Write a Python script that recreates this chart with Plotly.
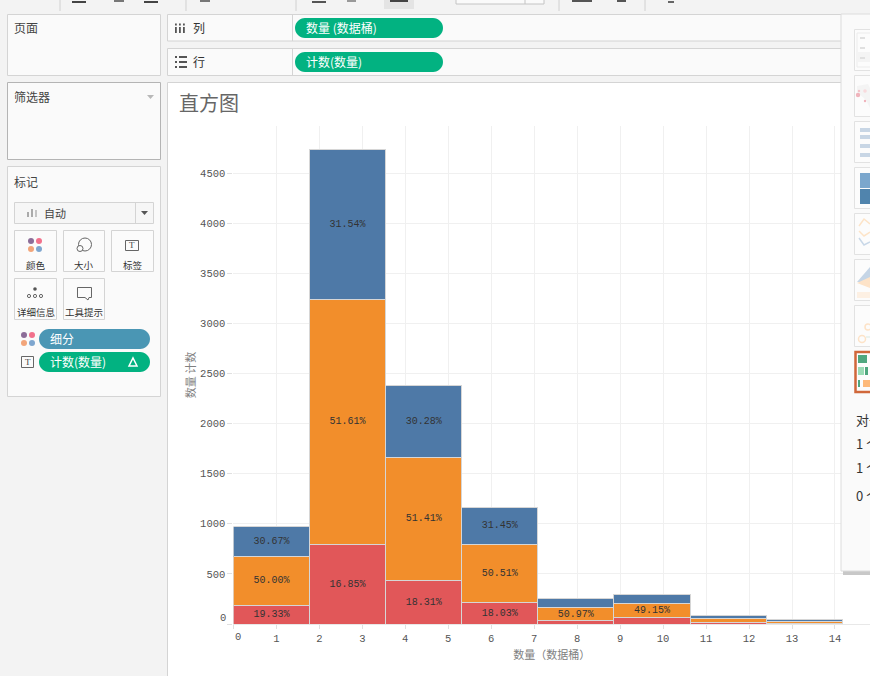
import plotly.graph_objects as go

##########
# Inputs #
##########

BIN_SIZE = 1.771
bin_numbers = [0, 1, 2, 3, 4, 5, 6, 7]

# counts per segment
red_values = [187, 798, 437, 210, 33, 62, 17, 7]
orange_values = [485, 2444, 1226, 587, 130, 145, 36, 17]
blue_values = [298, 1493, 722, 366, 92, 88, 28, 19]

red_labels = ["19.33%", "16.85%", "18.31%", "18.03%", "", "", "", ""]
orange_labels = ["50.00%", "51.61%", "51.41%", "50.51%", "50.97%", "49.15%", "", ""]
blue_labels = ["30.67%", "31.54%", "30.28%", "31.45%", "", "", "", ""]

x_ticks = list(range(15))
y_ticks = [0, 500, 1000, 1500, 2000, 2500, 3000, 3500, 4000, 4500]

W, H = 870, 676
CJK = "Noto Sans CJK SC"
MONO = "Liberation Mono"
GREEN = "#02b281"
TEAL = "#4a96b4"

shapes = []
annotations = []


def fx(x):
    return x / W


def fy(y):
    return 1 - y / H


def rect(x0, y0, x1, y1, fill=None, line=None, width=1, layer="below"):
    shapes.append(dict(
        type="rect", xref="paper", yref="paper", layer=layer,
        x0=fx(x0), x1=fx(x1), y0=fy(y0), y1=fy(y1),
        fillcolor=fill or "rgba(0,0,0,0)",
        line=dict(color=line or "rgba(0,0,0,0)", width=width if line else 0),
    ))


def circle(cx, cy, r, fill=None, line=None, width=1, layer="below"):
    shapes.append(dict(
        type="circle", xref="paper", yref="paper", layer=layer,
        x0=fx(cx - r), x1=fx(cx + r), y0=fy(cy - r), y1=fy(cy + r),
        fillcolor=fill or "rgba(0,0,0,0)",
        line=dict(color=line or "rgba(0,0,0,0)", width=width if line else 0),
    ))


def poly(points, fill=None, line=None, width=1, closed=True, layer="below"):
    path = "M " + " L ".join(f"{fx(x):.5f},{fy(y):.5f}" for x, y in points)
    if closed:
        path += " Z"
    shapes.append(dict(
        type="path", xref="paper", yref="paper", layer=layer, path=path,
        fillcolor=fill or "rgba(0,0,0,0)",
        line=dict(color=line or "rgba(0,0,0,0)", width=width if line else 0),
    ))


def pill(x0, y0, x1, y1, fill):
    # rounded bar built from two bezier end caps
    r = (y1 - y0) / 2
    k = r * 0.55
    p = lambda x, y: f"{fx(x):.5f},{fy(y):.5f}"
    path = (
        f"M {p(x0 + r, y0)} L {p(x1 - r, y0)} "
        f"C {p(x1 - r + k, y0)} {p(x1, y0 + r - k)} {p(x1, y0 + r)} "
        f"C {p(x1, y0 + r + k)} {p(x1 - r + k, y1)} {p(x1 - r, y1)} "
        f"L {p(x0 + r, y1)} "
        f"C {p(x0 + r - k, y1)} {p(x0, y0 + r + k)} {p(x0, y0 + r)} "
        f"C {p(x0, y0 + r - k)} {p(x0 + r - k, y0)} {p(x0 + r, y0)} Z"
    )
    shapes.append(dict(type="path", xref="paper", yref="paper", layer="below", path=path,
                       fillcolor=fill, line=dict(width=0)))


def text(x, y, s, size=12, color="#444444", anchor="left", family=CJK, angle=0):
    annotations.append(dict(
        xref="paper", yref="paper", x=fx(x), y=fy(y), text=s, showarrow=False,
        xanchor=anchor, yanchor="middle", textangle=angle,
        font=dict(family=family, size=size, color=color),
        borderpad=0, borderwidth=0,
    ))


###########
# Chrome  #
###########

BG = "#f3f3f3"
PANEL = "#fafafa"
EDGE = "#d4d4d4"

rect(0, 0, W, H, fill=BG)

# toolbar fragments along the top
for sep_x in [60, 186, 296, 559, 645]:
    poly([(sep_x, 0), (sep_x, 11)], line="#d0d0d0", closed=False)
rect(384, 0, 414, 9, fill="#e4e4e4")
rect(456, -3, 544, 4, fill="#fafafa", line="#c4c4c4")
poly([(525, 0), (525, 4)], line="#c4c4c4", closed=False)
for x0, x1, y, col in [(72, 86, 2, "#444444"), (114, 124, 1, "#777777"), (144, 158, 2, "#444444"),
                       (200, 210, 1, "#777777"), (312, 326, 2, "#555555"), (347, 356, 1, "#999999"),
                       (390, 408, 1, "#444444"), (572, 592, 1, "#555555"), (617, 626, 1, "#555555"),
                       (668, 674, 2, "#666666")]:
    poly([(x0, y), (x1, y)], line=col, width=2, closed=False)

# left cards
rect(7.5, 14.5, 160.5, 75.5, fill=PANEL, line=EDGE)
rect(7.5, 82.5, 160.5, 159.5, fill=PANEL, line="#b4b4b4")
rect(7.5, 166.5, 160.5, 396.5, fill=PANEL, line=EDGE)
text(14, 28, "页面")
text(14, 96, "筛选器")
text(14, 181, "标记")
poly([(147, 95), (154, 95), (150.5, 99)], fill="#b8b8b8")

# mark type dropdown
rect(14.5, 202.5, 153.5, 223.5, fill="#f6f6f6", line=EDGE)
poly([(135.5, 203), (135.5, 223)], line=EDGE, closed=False)
rect(27, 212, 29, 217, fill="#aaaaaa")
rect(31, 209, 33, 217, fill="#aaaaaa")
rect(35, 210, 37, 217, fill="#c4c4c4")
text(44, 213, "自动", size=11)
poly([(141, 211), (148, 211), (144.5, 215)], fill="#555555")

# mark cards
for x0, x1, y0, y1, label in [
    (14.5, 56.5, 230.5, 271.5, "颜色"),
    (63.5, 104.5, 230.5, 271.5, "大小"),
    (111.5, 153.5, 230.5, 271.5, "标签"),
    (14.5, 56.5, 278.5, 319.5, "详细信息"),
    (63.5, 104.5, 278.5, 319.5, "工具提示"),
]:
    rect(x0, y0, x1, y1, fill="#fbfbfb", line=EDGE)
    text((x0 + x1) / 2, y1 - 7, label, size=9.5, anchor="center", color="#333333")


def colour_dots(cx, cy):
    circle(cx - 4, cy - 4, 3, fill="#8c6d98")
    circle(cx + 4, cy - 4, 3, fill="#f2718c")
    circle(cx - 4, cy + 4, 3, fill="#f2a57a")
    circle(cx + 4, cy + 4, 3, fill="#7ea6cf")


def t_box(x0, y0, x1, y1):
    rect(x0, y0, x1, y1, line="#666666")
    text((x0 + x1) / 2, (y0 + y1) / 2, "T", size=9, anchor="center", color="#444444", family="Liberation Serif")


colour_dots(35, 245)
circle(85, 244.5, 6.5, fill="#fbfbfb", line="#666666")
circle(80, 248.5, 3, fill="#fbfbfb", line="#666666")
t_box(125.5, 240.5, 138.5, 250.5)
circle(35, 289, 1.8, fill="#555555")
for dot_x in [29, 35, 41]:
    circle(dot_x, 296, 1.6, fill="#fbfbfb", line="#666666")
poly([(77.5, 287.5), (91.5, 287.5), (91.5, 297.5), (89, 297.5), (88, 300), (85, 297.5), (77.5, 297.5)], line="#666666")

# marks shelf pills
colour_dots(28, 339)
pill(39, 329, 150, 349, TEAL)
text(50, 338.5, "细分", color="#ffffff")
t_box(21.5, 356.5, 33.5, 367.5)
pill(39, 352, 150, 372, GREEN)
text(50, 361.5, "计数(数量)", color="#ffffff")
poly([(129, 366), (137, 366), (133, 358)], line="#ffffff", width=1.5)

# column and row shelves
for y0, y1, label in [(14.5, 41, "列"), (48.5, 75.5, "行")]:
    rect(167.5, y0, 880, y1, fill=PANEL, line=EDGE)
    poly([(292.5, y0), (292.5, y1)], line=EDGE, closed=False)
    text(193, (y0 + y1) / 2 - 0.5, label, color="#333333")
for bar_x in [175, 179, 183]:
    rect(bar_x, 27, bar_x + 1.8, 33, fill="#555555")
    rect(bar_x, 23.5, bar_x + 1.8, 25.5, fill="#555555")
for line_y in [57, 62, 67]:
    rect(175, line_y - 1, 177, line_y + 1, fill="#555555")
    rect(179, line_y - 1, 187, line_y + 1, fill="#555555")
pill(295, 18, 443, 38, GREEN)
pill(295, 52, 443, 72, GREEN)
text(306, 27.5, "数量 (数据桶)", color="#ffffff")
text(306, 61.5, "计数(数量)", color="#ffffff")

# worksheet
rect(167.5, 82.5, 880, 690, fill="#ffffff", line=EDGE)
text(179, 102, "直方图", size=20, color="#666666")

# fixed label offsets that tick labels cannot do
text(238, 637, "0", size=10.5, color="#555555", anchor="center", family=MONO)
text(226, 618, "0", size=10.5, color="#555555", anchor="right", family=MONO)

# show-me panel sits over the chart
rect(843, 570, 880, 575, fill="#c8c8c8", layer="above")
rect(841, 14, 880, 571, fill=PANEL, line="#dcdcdc", layer="above")
for card_y in [29, 75, 121, 167, 213, 259, 305]:
    rect(854.5, card_y + 0.5, 880, card_y + 41.5, fill="#fcfcfc", line="#e2e2e2", layer="above")

rect(857, 33, 880, 67, line="#ececec", layer="above")
rect(858, 52, 880, 62, fill="#f4f4f4", layer="above")
for row_y in [37, 47, 57]:
    rect(860, row_y, 865, row_y + 2, fill="#e0e0e0", layer="above")

poly([(857, 86), (868, 84), (870, 88), (870, 108), (866, 100), (857, 92)], fill="#f4f4f4", layer="above")
circle(858, 95, 2.2, fill="#f0b4bc", layer="above")
circle(859, 91, 1.2, fill="#f4c4ca", layer="above")
circle(865, 91, 1.8, fill="#f8dadd", layer="above")
circle(865, 101, 1.2, fill="#f0b4bc", layer="above")

for row_y in [128, 135, 144, 153]:
    rect(860, row_y, 880, row_y + 4, fill="#c8d6e5", layer="above")

rect(860, 173, 880, 188, fill="#7ba7cd", layer="above")
rect(860, 189, 880, 204, fill="#5084ad", layer="above")

poly([(859, 226), (864, 219), (870, 224)], line="#fde4c8", width=1.5, closed=False, layer="above")
poly([(859, 231), (864, 236), (870, 232)], line="#fde4c8", width=1.5, closed=False, layer="above")
poly([(859, 238), (864, 245), (870, 242)], line="#c9d8e8", width=1.5, closed=False, layer="above")

poly([(857, 282), (870, 267), (880, 267), (880, 282)], fill="#c5d5e6", layer="above")
poly([(857, 283), (870, 277), (880, 277), (880, 292)], fill="#fde3c8", layer="above")
poly([(857, 292), (880, 292), (880, 298), (857, 298)], fill="#fdf0e3", layer="above")

circle(868, 327, 3, line="#fde3c8", width=1.5, layer="above")
circle(862, 339, 3.5, line="#fde3c8", width=1.5, layer="above")
poly([(866, 337), (870, 337)], line="#d8e8e0", closed=False, layer="above")

rect(855.5, 352, 880, 392, fill="#fcfcfc", line="#d0673a", width=2.5, layer="above")
rect(858, 355, 867, 363, fill="#4fa77f", layer="above")
rect(858, 367, 864, 375, fill="#9adbb5", layer="above")
rect(865, 367, 868, 375, fill="#4fa77f", layer="above")
rect(858, 380, 860, 387, fill="#4fa77f", layer="above")
rect(863, 380, 880, 387, fill="#fdb97a", layer="above")

# these run off the window edge in the reference too
text(856, 419, "对于", size=13, color="#333333")
text(856, 443, "1 个", size=13, color="#333333")
text(856, 467, "1 个", size=13, color="#333333")
text(856, 495, "0 个", size=13, color="#333333")


#############
# Plot data #
#############

fig = go.Figure()

x_centres = [(b + 0.5) * BIN_SIZE for b in bin_numbers]
for values, labels, colour in [
    (red_values, red_labels, "#e15759"),
    (orange_values, orange_labels, "#f28e2b"),
    (blue_values, blue_labels, "#4e79a7"),
]:
    fig.add_trace(go.Bar(
        x=x_centres,
        y=values,
        width=BIN_SIZE,
        text=labels,
        textposition="inside",
        insidetextanchor="middle",
        textangle=0,
        constraintext="none",
        textfont=dict(family=MONO, size=10, color="#333333"),
        marker=dict(color=colour, line=dict(color="#d6d6d6", width=1)),
        showlegend=False,
        hoverinfo="skip",
    ))

fig.update_layout(
    barmode="stack",
    width=W,
    height=H,
    autosize=False,
    margin=dict(l=0, r=0, t=0, b=0, pad=0),
    paper_bgcolor="#ffffff",
    plot_bgcolor="rgba(0,0,0,0)",
    showlegend=False,
    shapes=shapes,
    annotations=annotations,
    xaxis=dict(
        domain=[233.4 / W, 1],
        range=[0, (W - 233.4) / 42.97],
        tickvals=x_ticks,
        ticktext=[""] + [str(t) for t in x_ticks[1:]],
        ticks="outside",
        ticklen=4,
        tickcolor="#e0e0e0",
        tickfont=dict(family=MONO, size=10.5, color="#555555"),
        showgrid=True,
        gridcolor="#f0f0f0",
        gridwidth=1,
        zeroline=False,
        showline=False,
        title=dict(text="数量（数据桶）", standoff=7, font=dict(family=CJK, size=11, color="#808080")),
        automargin=False,
    ),
    yaxis=dict(
        domain=[1 - 624 / H, 1 - 126 / H],
        range=[0, 498 / 0.1002],
        tickvals=y_ticks,
        ticktext=[""] + [str(t) for t in y_ticks[1:]],
        ticks="outside",
        ticklen=5,
        tickcolor="#e0e0e0",
        tickfont=dict(family=MONO, size=10.5, color="#555555"),
        showgrid=True,
        gridcolor="#f0f0f0",
        gridwidth=1,
        zeroline=True,
        zerolinecolor="#e8e8e8",
        zerolinewidth=1,
        showline=False,
        title=dict(text="数量 计数", standoff=2, font=dict(family=CJK, size=11, color="#808080")),
        automargin=False,
    ),
)

fig.write_html("out.html", config=dict(displayModeBar=False),
               post_script="document.body.style.margin='0';")
